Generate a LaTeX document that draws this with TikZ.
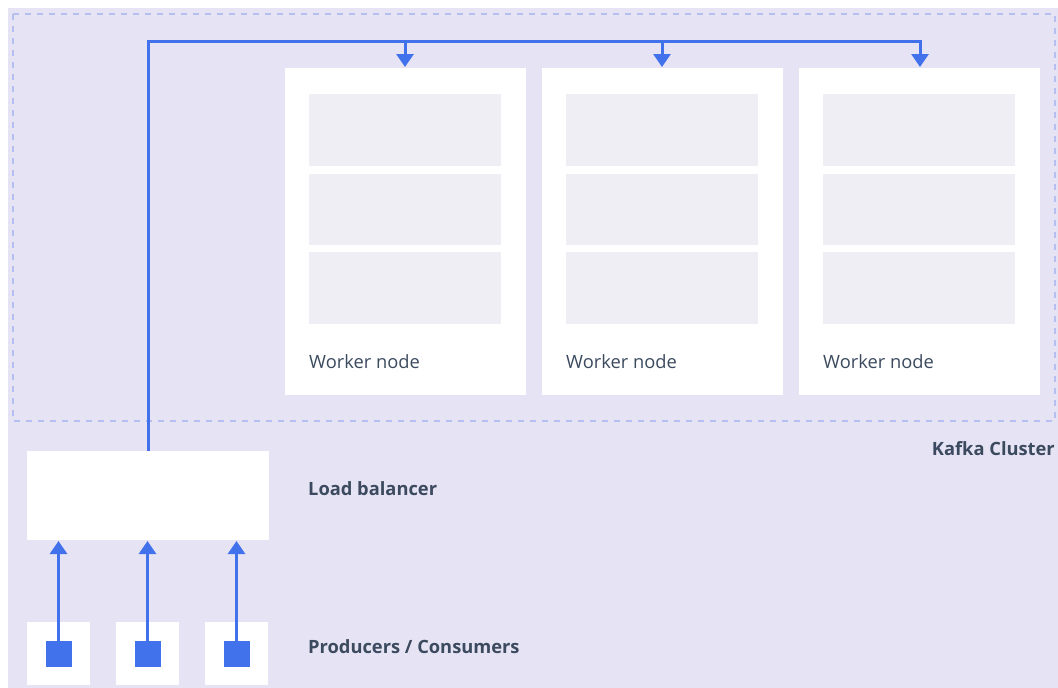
\documentclass[tikz,border=0pt]{standalone}
\usepackage{fontspec}
\setmainfont{Open Sans}
\usetikzlibrary{arrows.meta}
\definecolor{bgc}{HTML}{E6E3F4}
\definecolor{inner}{HTML}{EFEEF5}
\definecolor{flow}{HTML}{4271EC}
\definecolor{dashc}{HTML}{B5C0F0}
\definecolor{txt}{HTML}{3B4A5E}
\tikzset{
  box/.style={draw=none,fill=white,inner sep=0pt,minimum width=#1},
  slot/.style={fill=inner,draw=none,inner sep=0pt,minimum width=192pt,minimum height=72pt},
  flowline/.style={draw=flow,line width=3pt,-{Triangle[width=17pt,length=13pt]}},
  lbl/.style={text=txt,font=\fontsize{18.3}{21}\selectfont,anchor=west,inner sep=0pt},
  blbl/.style={lbl,font=\fontsize{18.3}{21}\selectfont\bfseries},
  dev/.style={fill=flow,draw=none,inner sep=0pt,minimum size=26pt}
}
\begin{document}
\begin{tikzpicture}[x=1pt,y=-1pt]
\useasboundingbox (0,0) rectangle (1058,688);
\fill[bgc] (8,8) rectangle (1058,688);
\draw[dashc,line width=1.5pt,dash pattern=on 6pt off 6pt] (13,14) rectangle (1055,421);
% worker nodes
\foreach \i/\x in {1/285,2/542,3/799}{
  \node[box=241pt,minimum height=327pt,anchor=north west] (w\i) at (\x,68) {};
  \node[slot,anchor=north west] (w\i a) at (\x+24,94) {};
  \node[slot,anchor=north west,minimum height=71pt] (w\i b) at (\x+24,174) {};
  \node[slot,anchor=north west] (w\i c) at (\x+24,252) {};
  \node[lbl] (w\i t) at (\x+24,362) {Worker node};
}
\node[blbl,anchor=east] (kc) at (1055,449) {Kafka Cluster};
% load balancer
\node[box=242pt,minimum height=89pt,anchor=north west] (lb) at (27,451) {};
\node[blbl] (lbt) at (308,489) {Load balancer};
% producers
\foreach \i/\x in {1/27,2/116,3/205}{
  \node[box=63pt,minimum height=63pt,anchor=north west] (p\i) at (\x,622) {};
  \node[dev] (d\i) at (\x+31.5,654) {};
}
\node[blbl] (pct) at (308,647) {Producers / Consumers};
% connectors
\foreach \i/\x in {1/58.5,2/147.5,3/236.5}{
  \draw[flowline] (d\i.north) -- (\x,541);
}
\coordinate (c0) at (148,41);
\draw[draw=flow,line width=3pt,line join=miter] (lb.north -| c0) -- (c0) -- (920,41);
\foreach \i/\x in {1/405,2/662,3/920}{
  \draw[flowline] (\x,40) -- (\x,67);
}
\end{tikzpicture}
\end{document}
